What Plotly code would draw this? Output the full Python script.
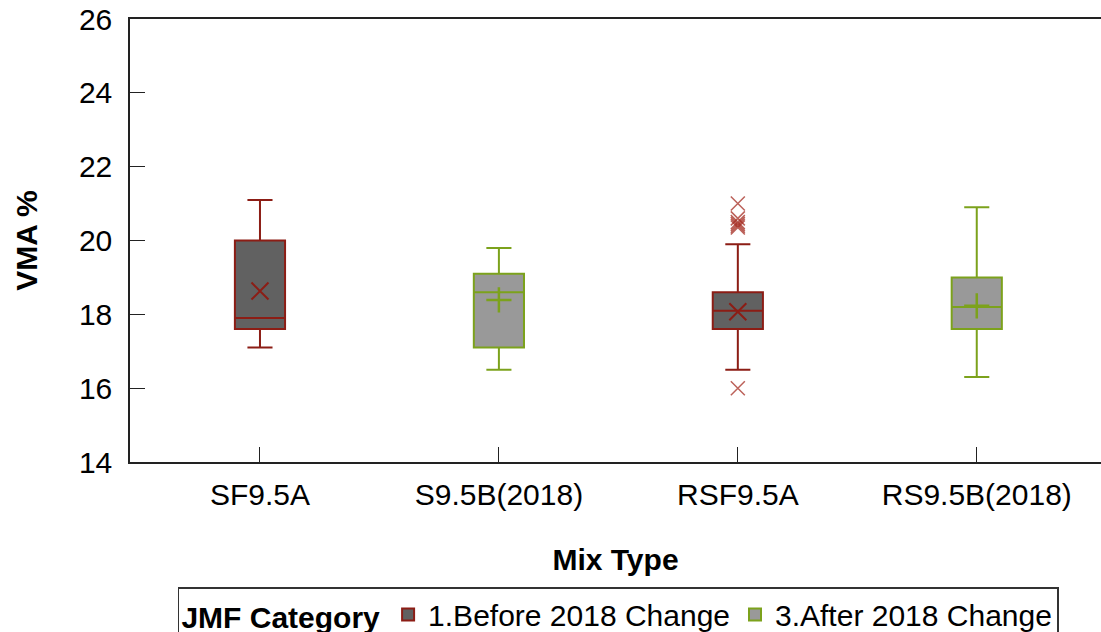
import plotly.graph_objects as go

# Mix types on the x axis
categories = ["SF9.5A", "S9.5B(2018)", "RSF9.5A", "RS9.5B(2018)"]

# Box statistics per JMF category (VMA %)
before_x = ["SF9.5A", "RSF9.5A"]
before_low = [17.1, 16.5]
before_q1 = [17.6, 17.6]
before_median = [17.9, 18.1]
before_q3 = [20.0, 18.6]
before_high = [21.1, 19.9]
before_mean = [18.63, 18.07]

after_x = ["S9.5B(2018)", "RS9.5B(2018)"]
after_low = [16.5, 16.3]
after_q1 = [17.1, 17.6]
after_median = [18.6, 18.2]
after_q3 = [19.1, 19.0]
after_high = [19.8, 20.9]
after_mean = [18.39, 18.23]

# Outliers beyond the whiskers
outlier_x = ["RSF9.5A"] * 7
outlier_y = [21.0, 20.6, 20.5, 20.45, 20.4, 20.35, 16.0]

y_ticks = [14, 16, 18, 20, 22, 24, 26]

RED = "#8c1d15"
GREEN = "#7ca21c"
FONT = "Liberation Sans, Arial, sans-serif"

fig = go.Figure()

fig.add_trace(go.Box(
    name="1.Before 2018 Change",
    x=before_x, q1=before_q1, median=before_median, q3=before_q3,
    lowerfence=before_low, upperfence=before_high,
    fillcolor="#616161", line=dict(color=RED, width=2),
    width=0.21, whiskerwidth=0.5, boxpoints=False,
))
fig.add_trace(go.Box(
    name="3.After 2018 Change",
    x=after_x, q1=after_q1, median=after_median, q3=after_q3,
    lowerfence=after_low, upperfence=after_high,
    fillcolor="#999999", line=dict(color=GREEN, width=2),
    width=0.21, whiskerwidth=0.5, boxpoints=False,
))

# Mean markers
fig.add_trace(go.Scatter(
    x=before_x, y=before_mean, mode="markers", showlegend=False,
    marker=dict(symbol="x-thin-open", size=17, color=RED,
                line=dict(color=RED, width=2)),
))
fig.add_trace(go.Scatter(
    x=after_x, y=after_mean, mode="markers", showlegend=False,
    marker=dict(symbol="cross-thin-open", size=18, color=GREEN,
                line=dict(color=GREEN, width=2.5)),
))

# Outlier markers
OUT_RED = "rgba(165,45,35,0.75)"
fig.add_trace(go.Scatter(
    x=outlier_x, y=outlier_y, mode="markers", showlegend=False,
    marker=dict(symbol="x-thin-open", size=14, color=OUT_RED,
                line=dict(color=OUT_RED, width=1.5)),
))

fig.update_layout(
    width=1101, height=632,
    margin=dict(l=130, r=0, t=19, b=170),
    plot_bgcolor="white", paper_bgcolor="white",
    boxmode="overlay",
    font=dict(family=FONT, size=30, color="black"),
    legend=dict(
        orientation="h", x=0.503, xanchor="center",
        yref="container", y=(632 - 587) / 632, yanchor="top",
        bordercolor="#333333", borderwidth=1.5,
        title=dict(text="<b>JMF Category</b>", font=dict(size=30)),
        font=dict(size=30), traceorder="normal",
    ),
    xaxis=dict(
        categoryorder="array", categoryarray=categories,
        range=[-0.544, 3.52],
        showline=True, linecolor="#222222", linewidth=1.5, mirror=True,
        ticks="inside", ticklen=15, tickcolor="#222222",
        showgrid=False, zeroline=False,
        tickfont=dict(size=30), ticklabelstandoff=5,
        title=dict(text="<b>Mix Type</b>", font=dict(size=30), standoff=39),
    ),
    yaxis=dict(
        range=[14, 26], tickvals=y_ticks,
        showline=True, linecolor="#222222", linewidth=1.5,
        ticks="inside", ticklen=15, tickcolor="#222222",
        showgrid=False, zeroline=False,
        tickfont=dict(size=30), ticklabelstandoff=10,
        title=dict(text="<b>VMA %</b>", font=dict(size=30), standoff=32),
    ),
)

fig.write_html("out.html")
